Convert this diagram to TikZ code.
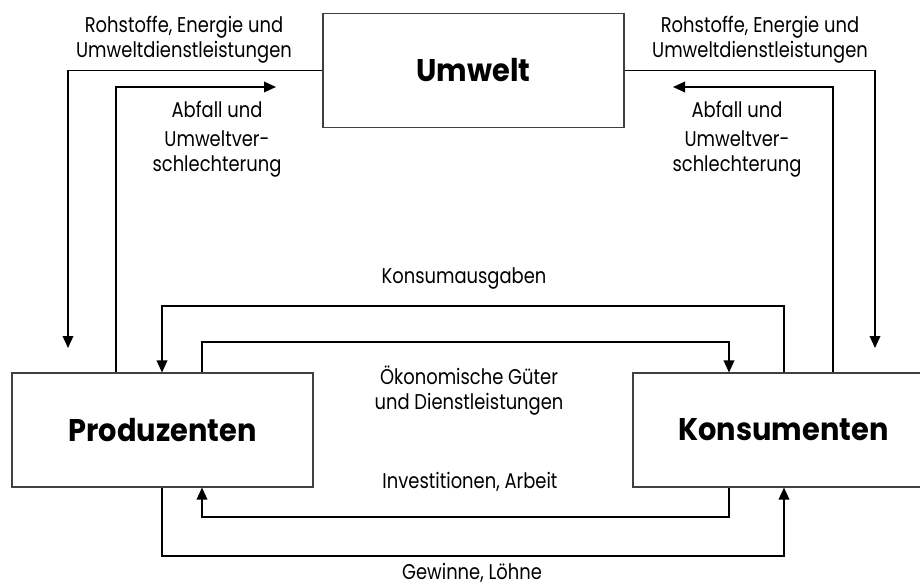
\documentclass[tikz,border=0pt]{standalone}
\usepackage{fontspec}
\setmainfont{Poppins}[FakeStretch=0.84]
\newfontfamily\boxfont{Poppins}[FakeStretch=0.92]
\usetikzlibrary{arrows.meta}
\begin{document}
\begin{tikzpicture}[x=0.75pt,y=-0.75pt,
  sector/.style={draw=black!75, line width=0.8pt, fill=white,
    minimum width=225.75pt, minimum height=85.5pt, inner sep=0pt,
    font={\boxfont\bfseries\fontsize{23.5}{28}\selectfont}},
  flow/.style={line width=1pt, -{Triangle[length=9pt,width=8pt]}},
  lbl/.style={inner sep=0pt, align=center, anchor=base,
    font={\fontsize{16}{18.75}\selectfont}}]
\useasboundingbox (0,0) rectangle (920,585);
\clip (0,0) rectangle (920,585);

% the three sectors
\node[sector] (umw)  at (473.5,70.5) {Umwelt};
\node[sector] (prod) at (162.5,430)  {Produzenten};
\node[sector] (kons) at (783.5,430)  {Konsumenten};

% bend points of the flows
\coordinate (rohL)  at (68,348);
\coordinate (rohR)  at (875,348);
\coordinate (abfLx) at (116,0);
\coordinate (abfL)  at (276,87);
\coordinate (abfRx) at (833,0);
\coordinate (abfR)  at (673,87);
\coordinate (kaR)   at (784,306);
\coordinate (kaL)   at (162,306);
\coordinate (guL)   at (202,342);
\coordinate (guR)   at (729,342);
\coordinate (inR)   at (729,517);
\coordinate (inL)   at (202,517);
\coordinate (geL)   at (162,556);
\coordinate (geR)   at (784,556);

% flows between environment and economy
\draw[flow] (umw.west) -| (rohL);
\draw[flow] (umw.east) -| (rohR);
\draw[flow] (prod.north -| abfLx) |- (abfL);
\draw[flow] (kons.north -| abfRx) |- (abfR);

% circular flow between producers and consumers
\draw[flow] (kons.north -| kaR) -- (kaR) -- (kaL) -- (prod.north -| kaL);
\draw[flow] (prod.north -| guL) -- (guL) -- (guR) -- (kons.north -| guR);
\draw[flow] (kons.south -| inR) -- (inR) -- (inL) -- (prod.south -| inL);
\draw[flow] (prod.south -| geL) -- (geL) -- (geR) -- (kons.south -| geR);

% flow labels (anchored at the baseline of their last line)
\node[lbl] (rohLt) at (184,58) {Rohstoffe, Energie und\\Umweltdienstleistungen};
\node[lbl] (rohRt) at (760,58) {Rohstoffe, Energie und\\Umweltdienstleistungen};
\node[lbl] (abfLt) at (217,171) {Abfall und\\[3pt]Umweltver-\\schlechterung};
\node[lbl] (abfRt) at (737,171) {Abfall und\\[3pt]Umweltver-\\schlechterung};
\node[lbl] (kat) at (464,283) {Konsumausgaben};
\node[lbl] (gut) at (469,409) {Ökonomische Güter\\und Dienstleistungen};
\node[lbl] (int) at (470,488) {Investitionen, Arbeit};
\node[lbl] (get) at (472,579) {Gewinne, Löhne};
\end{tikzpicture}
\end{document}
